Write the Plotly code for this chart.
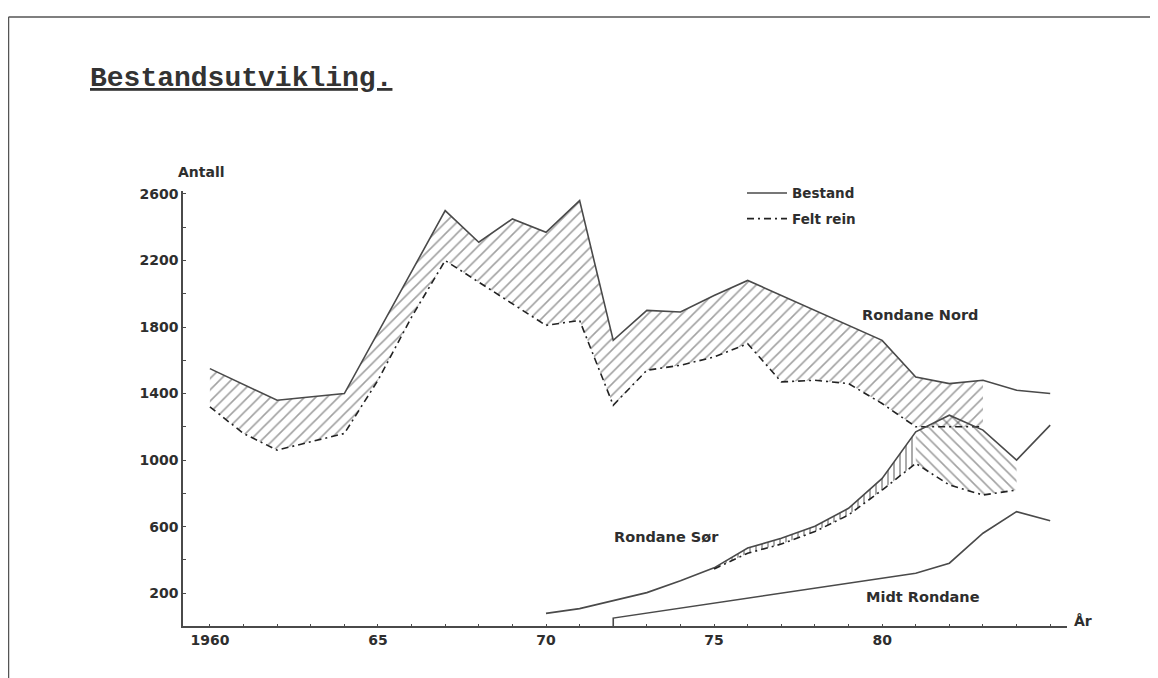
import plotly.graph_objects as go

# the page adds an 8px body margin; the figure is drawn 8px in from the top-left
OFF = 8
W, H = 1158 - OFF, 678 - OFF

# ---------------- data ----------------
nord_bestand_years = [1960, 1962, 1964, 1967, 1968, 1969, 1970, 1971, 1972, 1973,
                      1974, 1975, 1976, 1980, 1981, 1982, 1983, 1984, 1985]
nord_bestand = [1550, 1360, 1400, 2500, 2310, 2450, 2370, 2560, 1720, 1900,
                1890, 1990, 2080, 1720, 1500, 1460, 1480, 1420, 1400]

nord_felt_years = [1960, 1961, 1962, 1963, 1964, 1965, 1966, 1967, 1968, 1969,
                   1970, 1971, 1972, 1973, 1974, 1975, 1976, 1977, 1978, 1979,
                   1980, 1981, 1982, 1983]
nord_felt = [1320, 1160, 1060, 1110, 1160, 1480, 1860, 2200, 2070, 1940,
             1810, 1840, 1330, 1540, 1570, 1620, 1700, 1470, 1480, 1460,
             1340, 1200, 1200, 1200]

sor_bestand_years = [1970, 1971, 1972, 1973, 1974, 1975, 1976, 1977, 1978, 1979,
                     1980, 1981, 1982, 1983, 1984, 1985]
sor_bestand = [78, 107, 155, 203, 274, 352, 471, 530, 602, 710,
               890, 1170, 1270, 1180, 1000, 1210]

sor_felt_years = [1975, 1976, 1977, 1978, 1979, 1980, 1981, 1982, 1983, 1984]
sor_felt = [345, 440, 495, 570, 670, 820, 980, 850, 790, 820]

midt_bestand_years = [1972, 1972, 1981, 1982, 1983, 1984, 1985]
midt_bestand = [0, 50, 320, 380, 560, 690, 635]

x_tick_years = list(range(1960, 1986))
x_tick_labels = {1960: "1960", 1965: "65", 1970: "70", 1975: "75", 1980: "80"}
y_tick_values = list(range(200, 2601, 200))
y_tick_labels = {200: "200", 600: "600", 1000: "1000", 1400: "1400",
                 1800: "1800", 2200: "2200", 2600: "2600"}

# ---------------- helpers (screen pixel -> paper) ----------------
def px(x):
    return (x - OFF) / W

def py(y):
    return 1 - (y - OFF) / H

LINE = "#4a4a4a"
TXT = "#2e2e2e"
FONT = "DejaVu Sans"
DASH = "7px,4px,2px,4px"

def band(top_years, top_vals, bot_years, bot_vals, lo, hi):
    tx = [x for x in top_years if lo <= x <= hi]
    ty = [v for x, v in zip(top_years, top_vals) if lo <= x <= hi]
    bx = [x for x in bot_years if lo <= x <= hi]
    by = [v for x, v in zip(bot_years, bot_vals) if lo <= x <= hi]
    return tx + bx[::-1] + [tx[0]], ty + by[::-1] + [ty[0]]

fig = go.Figure()

def hatch(xs, ys, shape, size, solidity):
    fig.add_trace(go.Scatter(x=xs, y=ys, mode="lines", fill="toself", line=dict(width=0),
                             fillcolor="rgba(0,0,0,0)",
                             fillpattern=dict(shape=shape, fgcolor="#444444",
                                              bgcolor="rgba(255,255,255,0)",
                                              size=size, solidity=solidity),
                             showlegend=False, hoverinfo="skip"))

xs, ys = band(nord_bestand_years, nord_bestand, nord_felt_years, nord_felt, 1960, 1983)
hatch(xs, ys, "/", 8, 0.2)
xs, ys = band(sor_bestand_years, sor_bestand, sor_felt_years, sor_felt, 1975, 1981)
hatch(xs, ys, "|", 6, 0.3)
xs, ys = band(sor_bestand_years, sor_bestand, sor_felt_years, sor_felt, 1981, 1984)
hatch(xs, ys, "\\", 8, 0.2)

# lines
fig.add_trace(go.Scatter(x=nord_bestand_years, y=nord_bestand, mode="lines", name="Bestand",
                         legendgroup="a", line=dict(color=LINE, width=1.6), showlegend=True))
fig.add_trace(go.Scatter(x=nord_felt_years, y=nord_felt, mode="lines", name="Felt rein",
                         legendgroup="b", line=dict(color="#222", width=1.6, dash=DASH),
                         showlegend=True))
fig.add_trace(go.Scatter(x=sor_bestand_years, y=sor_bestand, mode="lines",
                         line=dict(color=LINE, width=1.6), showlegend=False))
fig.add_trace(go.Scatter(x=sor_felt_years, y=sor_felt, mode="lines",
                         line=dict(color="#222", width=1.6, dash=DASH), showlegend=False))
fig.add_trace(go.Scatter(x=midt_bestand_years, y=midt_bestand, mode="lines",
                         line=dict(color=LINE, width=1.6), showlegend=False))

tickfont = dict(family=FONT, size=14, color=TXT, weight="bold")

fig.update_layout(
    width=W, height=H,
    margin=dict(l=0, r=0, t=0, b=0),
    paper_bgcolor="white", plot_bgcolor="white",
    xaxis=dict(domain=[px(183), px(1067)], range=[1959.2, 1985.5],
               showgrid=False, zeroline=False, showline=True, linecolor=LINE, linewidth=1.6,
               tickmode="array", tickvals=x_tick_years,
               ticktext=[x_tick_labels.get(v, "") for v in x_tick_years],
               ticks="inside", ticklen=3, tickcolor=LINE, tickfont=tickfont),
    yaxis=dict(domain=[py(626), py(187)], range=[0, 2620],
               showgrid=False, zeroline=False, showline=True, linecolor=LINE, linewidth=1.6,
               tickmode="array", tickvals=y_tick_values,
               ticktext=[y_tick_labels.get(v, "") for v in y_tick_values],
               ticks="inside", ticklen=3, tickcolor=LINE, tickfont=tickfont),
    legend=dict(x=px(742), y=py(174), xanchor="left", yanchor="top",
                bgcolor="rgba(255,255,255,0)", borderwidth=0,
                font=dict(family=FONT, size=13.5, color=TXT, weight="bold"),
                itemwidth=40, tracegroupgap=5),
    showlegend=True,
)

def label(text, x, y, size=14.5, anchor="left"):
    fig.add_annotation(x=px(x), y=py(y), xref="paper", yref="paper", text=text,
                       showarrow=False, xanchor=anchor, yanchor="middle",
                       font=dict(family=FONT, size=size, color=TXT, weight="bold"))

label("Antall", 176, 168, size=14)
label("Rondane Nord", 860, 312)
label("Rondane Sør", 612, 536)
label("Midt Rondane", 864, 596)
label("År", 1072, 621, size=14)

fig.add_annotation(x=px(88), y=py(74), xref="paper", yref="paper",
                   text="Bestandsutvikling.", showarrow=False, xanchor="left", yanchor="middle",
                   font=dict(family="Liberation Mono", size=28, color="#333", weight="bold",
                             lineposition="under"))

# page frame
fig.add_shape(type="line", xref="paper", yref="paper", x0=px(8.5), x1=px(8.5), y0=0, y1=py(12),
              line=dict(color="#555", width=1.5))
fig.add_shape(type="line", xref="paper", yref="paper", x0=px(8.5), x1=1, y0=py(12), y1=py(12),
              line=dict(color="#555", width=1.5))

fig.write_html("out.html")
